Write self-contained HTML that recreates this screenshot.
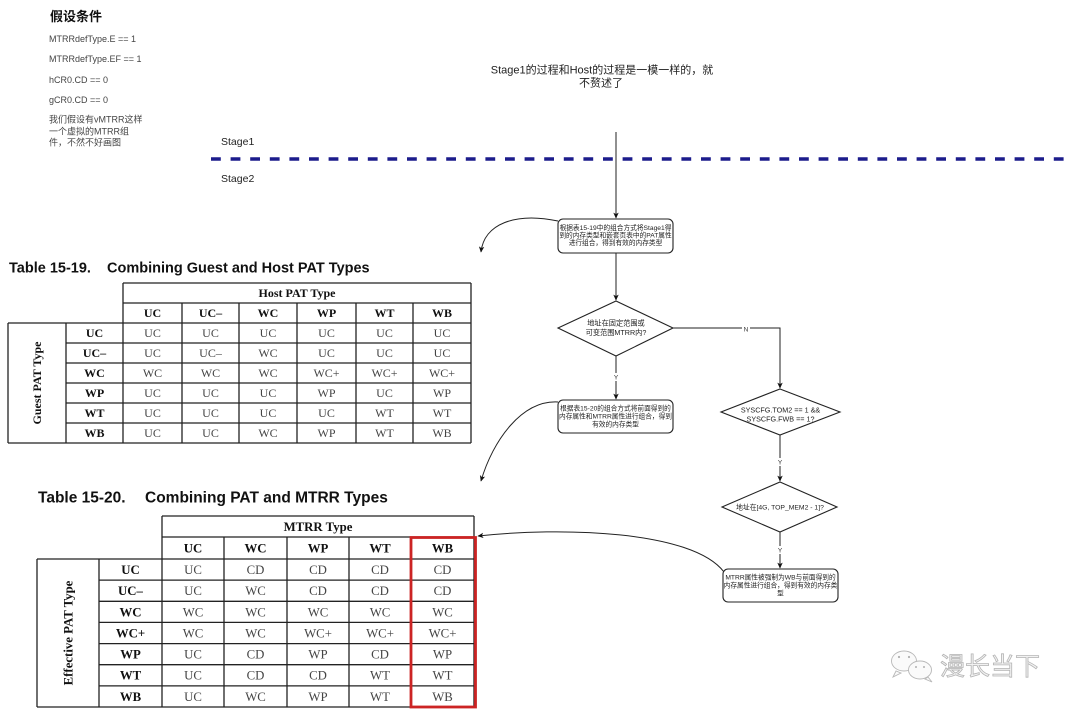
<!DOCTYPE html>
<html><head><meta charset="utf-8">
<style>
html,body{margin:0;padding:0;background:#fff;}
svg{display:block;}
.s{font-family:"Liberation Sans","Noto Sans CJK SC",sans-serif;}
.t{font-family:"Liberation Serif","Noto Serif CJK SC",serif;}
</style></head>
<body>
<svg width="1080" height="713" viewBox="0 0 1080 713" xmlns="http://www.w3.org/2000/svg">
<defs>
<marker id="ar" viewBox="0 0 10 10" refX="9" refY="5" markerWidth="6" markerHeight="6" markerUnits="userSpaceOnUse" orient="auto">
<path d="M0,0.5 L10,5 L0,9.5 L2.5,5 z" fill="#111"/>
</marker>
</defs>
<rect width="1080" height="713" fill="#fff"/>

<!-- top-left assumptions -->
<g class="s">
<text x="50" y="21" font-size="13" font-weight="bold" fill="#111">假设条件</text>
<g font-size="9" fill="#444">
<text x="49" y="42">MTRRdefType.E == 1</text>
<text x="49" y="62">MTRRdefType.EF == 1</text>
<text x="49" y="83">hCR0.CD == 0</text>
<text x="49" y="103">gCR0.CD == 0</text>
<text x="49" y="122.5">我们假设有vMTRR这样</text>
<text x="49" y="134.5">一个虚拟的MTRR组</text>
<text x="49" y="145.5">件，不然不好画图</text>
</g>
</g>

<!-- top center note -->
<g class="s" font-size="11" fill="#222" text-anchor="middle">
<text x="602" y="73.5">Stage1的过程和Host的过程是一模一样的，就</text>
<text x="601" y="86.5">不赘述了</text>
</g>

<!-- stage labels and dashed line -->
<g class="s" font-size="10.5" fill="#222">
<text x="221" y="145">Stage1</text>
<text x="221" y="182">Stage2</text>
</g>
<line x1="211" y1="159" x2="1068" y2="159" stroke="#1c1c8c" stroke-width="3.5" stroke-dasharray="9.8 9.8"/>

<!-- flowchart connectors -->
<g stroke="#222" stroke-width="1" fill="none">
<path d="M616,132 L616,218" marker-end="url(#ar)"/>
<path d="M616,253 L616,300" marker-end="url(#ar)"/>
<path d="M616,356 L616,399" marker-end="url(#ar)"/>
<path d="M673,328 L780,328 L780,388" marker-end="url(#ar)"/>
<path d="M780,435 L780,481" marker-end="url(#ar)"/>
<path d="M780,532 L780,568" marker-end="url(#ar)"/>
<path d="M558,221 C515,212 484,224 481,252" marker-end="url(#ar)"/>
<path d="M558,402 C522,400 493,440 481,481" marker-end="url(#ar)"/>
<path d="M724,572 C692,530 560,527 478,536" marker-end="url(#ar)"/>
</g>

<!-- Y / N labels -->
<g class="s" font-size="6.5" fill="#333" text-anchor="middle">
<rect x="742" y="325" width="8" height="8" fill="#fff"/>
<text x="746" y="331.5">N</text>
<rect x="612" y="373" width="8" height="8" fill="#fff"/>
<text x="616" y="379.5">Y</text>
<rect x="776" y="458" width="8" height="8" fill="#fff"/>
<text x="780" y="464.5">Y</text>
<rect x="776" y="546" width="8" height="8" fill="#fff"/>
<text x="780" y="552.5">Y</text>
</g>

<!-- boxes -->
<g fill="#fff" stroke="#222" stroke-width="1.1">
<rect x="558" y="219" width="115" height="34" rx="5"/>
<rect x="558" y="400" width="115" height="33" rx="5"/>
<rect x="723" y="569" width="115" height="33" rx="5"/>
<polygon points="616,301 673,328 616,356 558,328"/>
<polygon points="780,389 840,412 780,435 721,412"/>
<polygon points="780,482 837,507 780,532 722,507"/>
</g>

<g class="s" font-size="6.7" fill="#222" text-anchor="middle">
<text x="615.5" y="230">根据表15-19中的组合方式将Stage1得</text>
<text x="615.5" y="237.5">到的内存类型和嵌套页表中的PAT属性</text>
<text x="615.5" y="245">进行组合，得到有效的内存类型</text>

<text x="615.5" y="410.5">根据表15-20的组合方式将前面得到的</text>
<text x="615.5" y="418.5">内存属性和MTRR属性进行组合，得到</text>
<text x="615.5" y="426.5">有效的内存类型</text>

<text x="780.5" y="579.5">MTRR属性被强制为WB与前面得到的</text>
<text x="780.5" y="587.5">内存属性进行组合，得到有效的内存类</text>
<text x="780.5" y="595.5">型</text>
</g>
<g class="s" font-size="7.2" fill="#222" text-anchor="middle">
<text x="616" y="325.5">地址在固定范围或</text>
<text x="616" y="335">可变范围MTRR内?</text>
<text x="780.5" y="412.5">SYSCFG.TOM2 == 1 &amp;&amp;</text>
<text x="780.5" y="421.5">SYSCFG.FWB == 1?</text>
</g>
<text class="s" font-size="6.8" fill="#222" text-anchor="middle" x="780" y="509.5">地址在[4G, TOP_MEM2 - 1]?</text>

<!-- Table 15-19 -->
<g class="s" font-size="14.5" font-weight="bold" fill="#111">
<text x="9" y="272.5">Table 15-19.</text>
<text x="107" y="272.5">Combining Guest and Host PAT Types</text>
</g>
<g stroke="#222" stroke-width="1.3" fill="none">
<line x1="123" y1="283" x2="471" y2="283"/>
<line x1="123" y1="303" x2="471" y2="303"/>
<line x1="8" y1="323" x2="471" y2="323"/>
<line x1="66" y1="343" x2="471" y2="343"/>
<line x1="66" y1="363" x2="471" y2="363"/>
<line x1="66" y1="383" x2="471" y2="383"/>
<line x1="66" y1="403" x2="471" y2="403"/>
<line x1="66" y1="423" x2="471" y2="423"/>
<line x1="8" y1="443" x2="471" y2="443"/>
<line x1="8" y1="323" x2="8" y2="443"/>
<line x1="66" y1="323" x2="66" y2="443"/>
<line x1="123" y1="283" x2="123" y2="443"/>
<line x1="182" y1="303" x2="182" y2="443"/>
<line x1="239" y1="303" x2="239" y2="443"/>
<line x1="297" y1="303" x2="297" y2="443"/>
<line x1="356" y1="303" x2="356" y2="443"/>
<line x1="413" y1="303" x2="413" y2="443"/>
<line x1="471" y1="283" x2="471" y2="443"/>
</g>
<g class="t" font-size="12" text-anchor="middle">
<g font-weight="bold" fill="#111">
<text x="297" y="297">Host PAT Type</text>
<text x="152.5" y="317">UC</text><text x="210.5" y="317">UC–</text><text x="268" y="317">WC</text><text x="326.5" y="317">WP</text><text x="384.5" y="317">WT</text><text x="442" y="317">WB</text>
<text x="94.5" y="337">UC</text><text x="94.5" y="357">UC–</text><text x="94.5" y="377">WC</text><text x="94.5" y="397">WP</text><text x="94.5" y="417">WT</text><text x="94.5" y="437">WB</text>
<text transform="translate(41,383) rotate(-90)" x="0" y="0">Guest PAT Type</text>
</g>
<g fill="#444">
<text x="152.5" y="337">UC</text><text x="210.5" y="337">UC</text><text x="268" y="337">UC</text><text x="326.5" y="337">UC</text><text x="384.5" y="337">UC</text><text x="442" y="337">UC</text>
<text x="152.5" y="357">UC</text><text x="210.5" y="357">UC–</text><text x="268" y="357">WC</text><text x="326.5" y="357">UC</text><text x="384.5" y="357">UC</text><text x="442" y="357">UC</text>
<text x="152.5" y="377">WC</text><text x="210.5" y="377">WC</text><text x="268" y="377">WC</text><text x="326.5" y="377">WC+</text><text x="384.5" y="377">WC+</text><text x="442" y="377">WC+</text>
<text x="152.5" y="397">UC</text><text x="210.5" y="397">UC</text><text x="268" y="397">UC</text><text x="326.5" y="397">WP</text><text x="384.5" y="397">UC</text><text x="442" y="397">WP</text>
<text x="152.5" y="417">UC</text><text x="210.5" y="417">UC</text><text x="268" y="417">UC</text><text x="326.5" y="417">UC</text><text x="384.5" y="417">WT</text><text x="442" y="417">WT</text>
<text x="152.5" y="437">UC</text><text x="210.5" y="437">UC</text><text x="268" y="437">WC</text><text x="326.5" y="437">WP</text><text x="384.5" y="437">WT</text><text x="442" y="437">WB</text>
</g>
</g>

<!-- Table 15-20 -->
<g class="s" font-size="15.5" font-weight="bold" fill="#111">
<text x="38" y="502.5">Table 15-20.</text>
<text x="145" y="502.5">Combining PAT and MTRR Types</text>
</g>
<g stroke="#222" stroke-width="1.3" fill="none">
<line x1="162" y1="516" x2="474" y2="516"/>
<line x1="162" y1="537" x2="474" y2="537"/>
<line x1="37" y1="559" x2="474" y2="559"/>
<line x1="99" y1="580.1" x2="474" y2="580.1"/>
<line x1="99" y1="601.3" x2="474" y2="601.3"/>
<line x1="99" y1="622.4" x2="474" y2="622.4"/>
<line x1="99" y1="643.6" x2="474" y2="643.6"/>
<line x1="99" y1="664.7" x2="474" y2="664.7"/>
<line x1="99" y1="685.9" x2="474" y2="685.9"/>
<line x1="37" y1="707" x2="474" y2="707"/>
<line x1="37" y1="559" x2="37" y2="707"/>
<line x1="99" y1="559" x2="99" y2="707"/>
<line x1="162" y1="516" x2="162" y2="707"/>
<line x1="224" y1="537" x2="224" y2="707"/>
<line x1="287" y1="537" x2="287" y2="707"/>
<line x1="349" y1="537" x2="349" y2="707"/>
<line x1="411" y1="537" x2="411" y2="707"/>
<line x1="474" y1="516" x2="474" y2="707"/>
</g>
<g class="t" font-size="12.8" text-anchor="middle">
<g font-weight="bold" fill="#111">
<text x="318" y="531">MTRR Type</text>
<text x="193" y="552.5">UC</text><text x="255.5" y="552.5">WC</text><text x="318" y="552.5">WP</text><text x="380" y="552.5">WT</text><text x="442.5" y="552.5">WB</text>
<text x="130.5" y="574">UC</text><text x="130.5" y="595">UC–</text><text x="130.5" y="616.3">WC</text><text x="130.5" y="637.4">WC+</text><text x="130.5" y="658.5">WP</text><text x="130.5" y="679.7">WT</text><text x="130.5" y="700.8">WB</text>
<text transform="translate(72.5,633) rotate(-90)" x="0" y="0">Effective PAT Type</text>
</g>
<g fill="#444">
<text x="193" y="574">UC</text><text x="255.5" y="574">CD</text><text x="318" y="574">CD</text><text x="380" y="574">CD</text><text x="442.5" y="574">CD</text>
<text x="193" y="595">UC</text><text x="255.5" y="595">WC</text><text x="318" y="595">CD</text><text x="380" y="595">CD</text><text x="442.5" y="595">CD</text>
<text x="193" y="616.3">WC</text><text x="255.5" y="616.3">WC</text><text x="318" y="616.3">WC</text><text x="380" y="616.3">WC</text><text x="442.5" y="616.3">WC</text>
<text x="193" y="637.4">WC</text><text x="255.5" y="637.4">WC</text><text x="318" y="637.4">WC+</text><text x="380" y="637.4">WC+</text><text x="442.5" y="637.4">WC+</text>
<text x="193" y="658.5">UC</text><text x="255.5" y="658.5">CD</text><text x="318" y="658.5">WP</text><text x="380" y="658.5">CD</text><text x="442.5" y="658.5">WP</text>
<text x="193" y="679.7">UC</text><text x="255.5" y="679.7">CD</text><text x="318" y="679.7">CD</text><text x="380" y="679.7">WT</text><text x="442.5" y="679.7">WT</text>
<text x="193" y="700.8">UC</text><text x="255.5" y="700.8">WC</text><text x="318" y="700.8">WP</text><text x="380" y="700.8">WT</text><text x="442.5" y="700.8">WB</text>
</g>
</g>
<rect x="411" y="537.5" width="64.5" height="169.5" fill="none" stroke="#cc2424" stroke-width="2.8"/>

<!-- watermark -->
<g stroke="#b8b8b8" stroke-width="0.9" fill="#fafafa">
<path d="M896,671 L893,677 L901,673 Z"/>
<ellipse cx="904" cy="661" rx="12.5" ry="10"/>
<path d="M928,677 L932,682 L925,679 Z"/>
<ellipse cx="920" cy="670" rx="11.5" ry="9"/>
</g>
<g fill="#b0b0b0">
<circle cx="899" cy="657" r="1.1"/><circle cx="909" cy="657" r="1.1"/>
<circle cx="916" cy="667" r="1"/><circle cx="924" cy="667" r="1"/>
</g>
<text class="s" x="940" y="675" font-size="25" fill="#f2f2f2" stroke="#b4b4b4" stroke-width="0.8">漫长当下</text>
</svg>
</body></html>
